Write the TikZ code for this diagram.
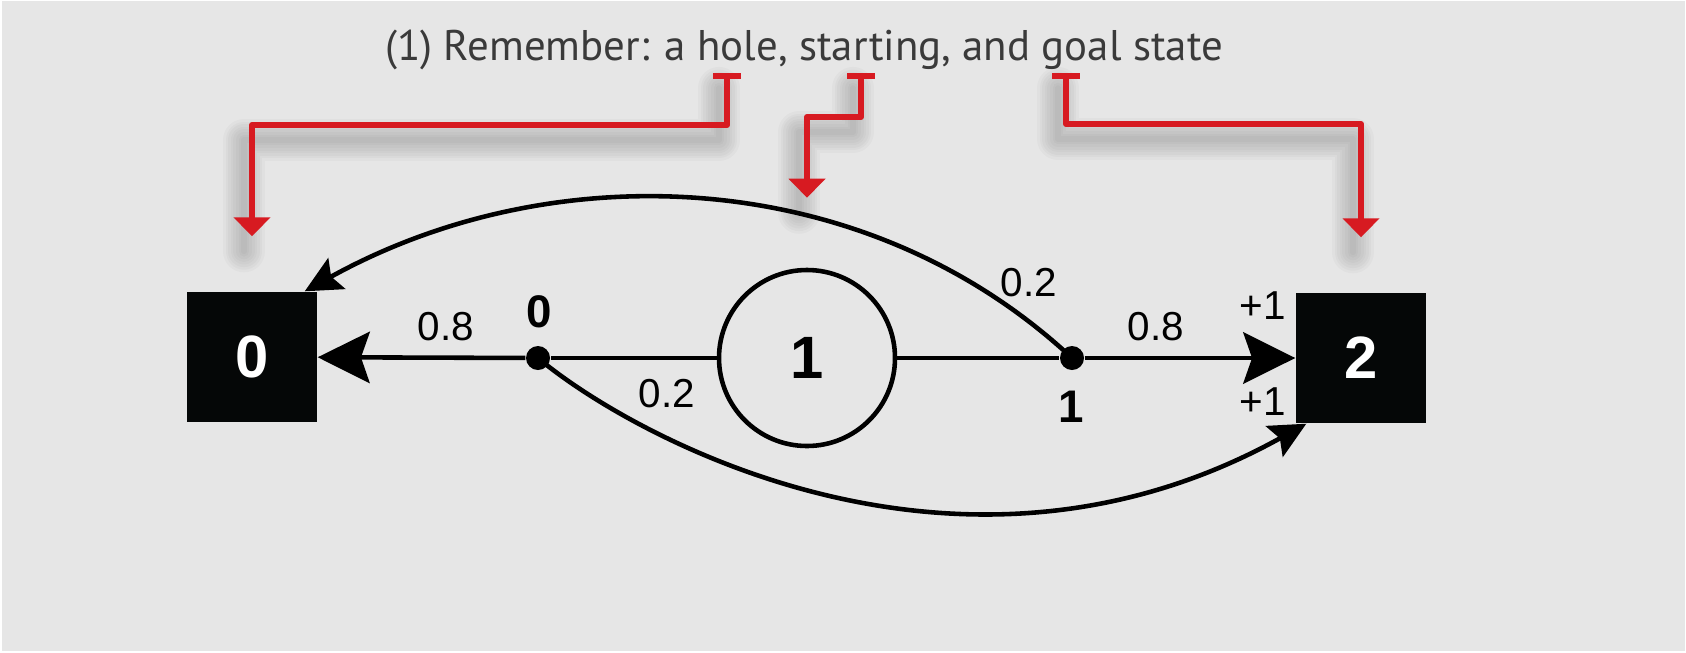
\documentclass[tikz,border=0pt]{standalone}
\usepackage{fontspec}
\setmainfont{Liberation Sans}
\newfontfamily\handfont{PT Sans}
\usetikzlibrary{arrows.meta}
\definecolor{bg}{HTML}{E6E6E6}
\definecolor{rood}{HTML}{D71A21}
\definecolor{ink}{HTML}{050707}
\definecolor{pen}{HTML}{3A3A3A}
\begin{document}
\begin{tikzpicture}[line join=round,
	sq/.style={fill=ink,inner sep=0pt,minimum size=1.3cm,text=white,font=\bfseries\fontsize{17}{20}\selectfont},
	ring/.style={circle,draw,line width=1.3pt,inner sep=0pt,minimum size=1.76cm,font=\bfseries\fontsize{17}{20}\selectfont},
	blob/.style={circle,fill=black,inner sep=0pt,minimum size=.24cm},
	lbl/.style={inner sep=1pt,font=\fontsize{11.5}{13}\selectfont},
	slbl/.style={inner sep=1pt,font=\bfseries\fontsize{13}{15}\selectfont},
	harr/.style={line width=1.3pt,-{Stealth[length=14.8pt,width=14.6pt,inset=2.5pt]}},
	carr/.style={line width=1.3pt,-{Stealth[length=10.4pt,width=10pt,inset=1.8pt]}},
	redarr/.style={rood,line width=1.7pt,{Rectangle[length=1.7pt,width=7.7pt]}-{Triangle[length=5.4pt,width=10.2pt]}},
	halo/.style={black,opacity=.022,line cap=round}]
	\useasboundingbox (0,0) rectangle (16.86,-6.52);
	\fill[white] (0,0) rectangle (16.86,-6.52);
	\fill[bg] (.02,-.01) rectangle (16.85,-6.51);
	\node[sq] (b0) at (2.52,-3.57) {0};
	\node[sq] (b2) at (13.61,-3.58) {2};
	\node[ring] (c1) at (8.07,-3.58) {1};
	\foreach \n/\x in {d0/5.38,d1/10.72} \node[blob] (\n) at (\x,-3.58) {};
	\node[slbl] (l0) at (5.39,-3.12) {0};
	\node[slbl] (l1) at (10.71,-4.07) {1};
	\foreach \n/\p/\t in {p08a/{4.46,-3.27}/0.8, p02a/{6.67,-3.94}/0.2, p02b/{10.29,-2.83}/0.2,
		p08b/{11.56,-3.27}/0.8, r1a/{12.63,-3.06}/+1, r1b/{12.63,-4.02}/+1}
		\node[lbl] (\n) at (\p) {\t};
	\node[font=\handfont\fontsize{12.2}{14}\selectfont,text=pen,anchor=base] (kop) at (8.04,-.60)
		{(1) Remember: a hole, starting, and goal state};
	\path (7.27,-.73) coordinate (hole) (8.61,-.73) coordinate (start) (10.66,-.73) coordinate (goal);
	\def\A{(hole) -- ++(0,-.52) -| ([yshift=5.5mm]b0.north)}
	\def\B{(start) -- ++(0,-.44) -| ([yshift=7mm]c1.north)}
	\def\C{(goal) -- ++(0,-.51) -| ([yshift=5.5mm]b2.north)}
	%schaduw
	\begin{scope}[transform canvas={shift={(-.08,-.15)}}]
		\foreach \w in {1.5pt,3pt,4.5pt,6pt,7.5pt,9pt,10.5pt,12pt} \draw[halo,line width=\w] \A \B \C;
	\end{scope}
	\draw[redarr] \A;
	\draw[redarr] \B;
	\draw[redarr] \C;
	\draw[harr] (d0) -- (b0);
	\draw[line width=1.3pt] (c1) -- (d0) (c1) -- (d1);
	\draw[harr] (d1) -- (b2);
	\draw[carr] (d1.center) ..controls +(137:2.84) and +(29:2.84) .. ([xshift=-1.3mm]b0.north east);
	\draw[carr] (d0.center) ..controls +(-40:1.2) and +(209:4) .. ([xshift=1.1mm]b2.south west);
\end{tikzpicture}
\end{document}
